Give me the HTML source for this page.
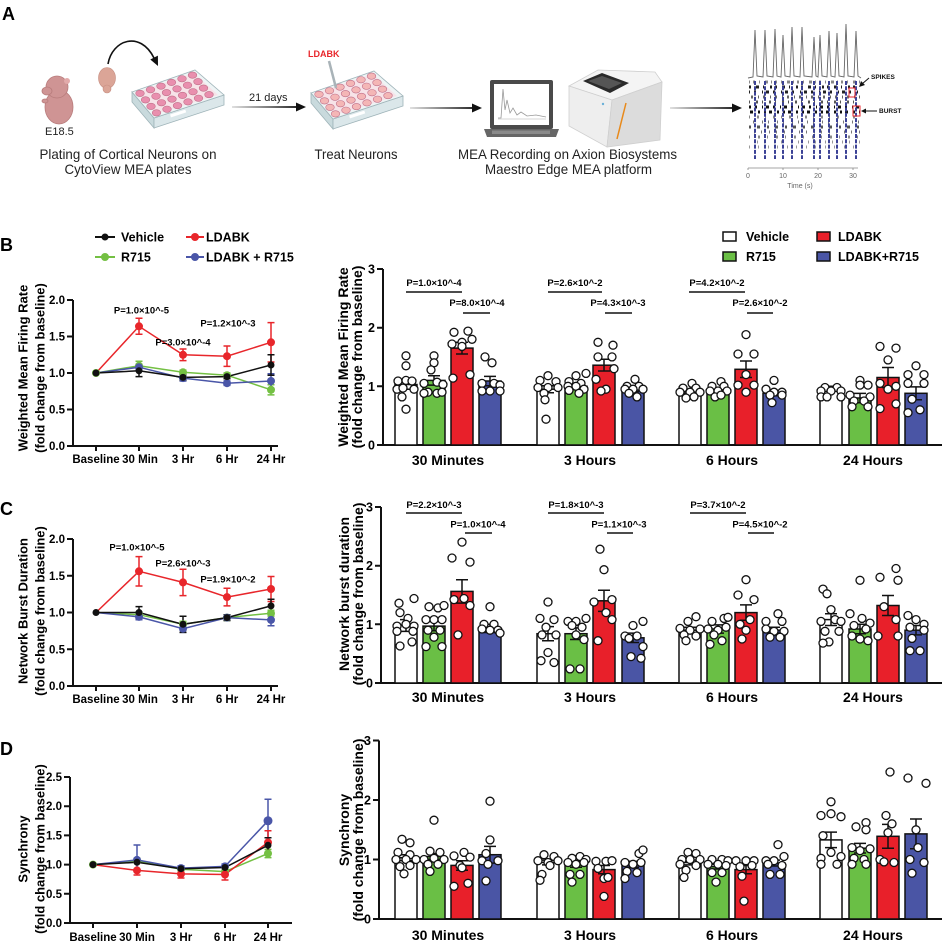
<!DOCTYPE html>
<html><head><meta charset="utf-8">
<style>
html,body{margin:0;padding:0;background:#fff;}
svg{display:block;font-family:"Liberation Sans",Arial,sans-serif;}
</style></head><body>
<svg id="s" width="951" height="952" viewBox="0 0 951 952" xmlns="http://www.w3.org/2000/svg">
<defs>
<linearGradient id="ag" x1="0" x2="1" y1="0" y2="0"><stop offset="0" stop-color="#ddd"/><stop offset="1" stop-color="#111"/></linearGradient>
<g id="wells" stroke="#c0708a" stroke-width="0.6">
<ellipse cx="140" cy="93.4" rx="4.3" ry="3.2"/><ellipse cx="150.5" cy="89.7" rx="4.3" ry="3.2"/><ellipse cx="161" cy="86.1" rx="4.3" ry="3.2"/><ellipse cx="171.5" cy="82.4" rx="4.3" ry="3.2"/><ellipse cx="182" cy="78.7" rx="4.3" ry="3.2"/><ellipse cx="192.5" cy="75.1" rx="4.3" ry="3.2"/>
<ellipse cx="145.5" cy="99.9" rx="4.3" ry="3.2"/><ellipse cx="156" cy="96.2" rx="4.3" ry="3.2"/><ellipse cx="166.5" cy="92.6" rx="4.3" ry="3.2"/><ellipse cx="177" cy="88.9" rx="4.3" ry="3.2"/><ellipse cx="187.5" cy="85.2" rx="4.3" ry="3.2"/><ellipse cx="198" cy="81.6" rx="4.3" ry="3.2"/>
<ellipse cx="151" cy="106.4" rx="4.3" ry="3.2"/><ellipse cx="161.5" cy="102.7" rx="4.3" ry="3.2"/><ellipse cx="172" cy="99.1" rx="4.3" ry="3.2"/><ellipse cx="182.5" cy="95.4" rx="4.3" ry="3.2"/><ellipse cx="193" cy="91.7" rx="4.3" ry="3.2"/><ellipse cx="203.5" cy="88.1" rx="4.3" ry="3.2"/>
<ellipse cx="156.5" cy="112.9" rx="4.3" ry="3.2"/><ellipse cx="167" cy="109.2" rx="4.3" ry="3.2"/><ellipse cx="177.5" cy="105.6" rx="4.3" ry="3.2"/><ellipse cx="188" cy="101.9" rx="4.3" ry="3.2"/><ellipse cx="198.5" cy="98.2" rx="4.3" ry="3.2"/><ellipse cx="209" cy="94.6" rx="4.3" ry="3.2"/>
</g>
<g id="plate">
<polygon points="132,92 154,118 154,128 132,102" fill="#c9dadd" stroke="#9fb4b9" stroke-width="0.8"/>
<polygon points="154,118 224,95 224,105 154,128" fill="#dbe7ea" stroke="#9fb4b9" stroke-width="0.8"/>
<rect x="170" y="112" width="16" height="3" fill="#fff" transform="rotate(-18 178 113)"/>
<polygon points="132,92 195,70 224,95 154,118" fill="#eef4f5" stroke="#9fb4b9" stroke-width="0.8"/>
<polygon points="137,92 194,73 218,95 156,114" fill="#f7e3e8"/>
</g>
</defs>

<!-- ===== Panel A ===== -->
<text x="2" y="20" font-size="18" font-weight="bold">A</text>
<g fill="#cf9494" stroke="#b87c7c" stroke-width="0.8">
<ellipse cx="59" cy="107" rx="14" ry="17"/>
<circle cx="57" cy="87" r="11"/>
<ellipse cx="47" cy="91" rx="5" ry="4"/>
<ellipse cx="45" cy="101" rx="3" ry="2"/>
</g>
<circle cx="67" cy="81" r="3" fill="#e2aaaa"/>
<text x="45" y="135" font-size="11" fill="#222">E18.5</text>
<g fill="#dba597" stroke="#c58d80" stroke-width="0.6">
<ellipse cx="107" cy="78" rx="8.5" ry="10.5"/>
<ellipse cx="107" cy="89" rx="4" ry="4"/>
</g>
<path d="M108,64 C112,40 140,30 154,58" fill="none" stroke="#111" stroke-width="1.6"/>
<polygon points="158,66 157.9,55.6 150.3,59.5" fill="#111"/>
<use href="#plate"/>
<use href="#wells" fill="#e98fae"/>
<g transform="translate(179,1)"><use href="#plate"/><use href="#wells" fill="#f4b6b6"/></g>
<line x1="329" y1="61" x2="336" y2="88" stroke="#a9b3b8" stroke-width="2.5"/>
<text x="308" y="57" font-size="9" font-weight="bold" fill="#e8262b">LDABK</text>
<rect x="232" y="106.1" width="66" height="1.8" fill="url(#ag)"/>
<polygon points="306,107 296,102.5 296,111.5" fill="#111"/>
<text x="249" y="101" font-size="11" fill="#222">21 days</text>
<rect x="410" y="107.1" width="64" height="1.8" fill="url(#ag)"/>
<polygon points="482,108 472,103.5 472,112.5" fill="#111"/>
<rect x="670" y="107.1" width="63" height="1.8" fill="url(#ag)"/>
<polygon points="742,108 732,103.5 732,112.5" fill="#111"/>
<!-- laptop -->
<rect x="490" y="80" width="63" height="49" rx="2" fill="#4a4a4a"/>
<rect x="494" y="84" width="55" height="41" fill="#fff"/>
<polyline points="498,118 501,118 503,89 505,110 507,100 510,113 513,108 517,115 521,112 527,116 536,115 546,117" fill="none" stroke="#999" stroke-width="0.8"/>
<line x1="498" y1="119" x2="546" y2="119" stroke="#aaa" stroke-width="0.6"/>
<polygon points="484,129 559,129 556,137 487,137" fill="#666"/>
<rect x="492" y="130.5" width="58" height="3.5" fill="#8a8a8a"/>
<!-- machine -->
<polygon points="569,86 598,70 655,72 662,82 612,100" fill="#f4f4f4" stroke="#cfcfcf" stroke-width="0.8"/>
<polygon points="569,86 612,100 607,147 569,126" fill="#eeeeee" stroke="#cfcfcf" stroke-width="0.8"/>
<polygon points="612,100 662,82 660,140 607,147" fill="#dcdcdc" stroke="#cfcfcf" stroke-width="0.8"/>
<polygon points="583,81 602,73 629,83 610,93" fill="#2a2a2a"/>
<polygon points="588,81 602,76 622,83 609,89" fill="#555"/>
<line x1="617" y1="139" x2="626" y2="103" stroke="#e8891a" stroke-width="1.5"/>
<circle cx="603" cy="104" r="1.2" fill="#6ab0d8"/>
<text x="567.5" y="159" font-size="14" fill="#222" text-anchor="middle" textLength="219" lengthAdjust="spacingAndGlyphs">MEA Recording on Axion Biosystems</text>
<text x="568.5" y="174" font-size="14" fill="#222" text-anchor="middle" textLength="167" lengthAdjust="spacingAndGlyphs">Maestro Edge MEA platform</text>
<text x="128" y="159" font-size="14" fill="#222" text-anchor="middle" textLength="177" lengthAdjust="spacingAndGlyphs">Plating of Cortical Neurons on</text>
<text x="128" y="174" font-size="14" fill="#222" text-anchor="middle" textLength="127" lengthAdjust="spacingAndGlyphs">CytoView MEA plates</text>
<text x="356" y="159" font-size="14" fill="#222" text-anchor="middle" textLength="83" lengthAdjust="spacingAndGlyphs">Treat Neurons</text>
<!-- raster -->
<path d="M748,78 L753,77 L755,30 L757,76 L763,77 L765,30 L767,76 L773,77 L775,29 L777,76 L781,77 L783,35 L785,76 L790,77 L792,27 L794,76 L800,77 L802,27 L804,76 L812,77 L814,37 L816,76 L818,77 L820,35 L822,76 L827,77 L829,31 L831,76 L835,77 L837,33 L839,76 L844,77 L846,24 L848,76 L854,77 L856,31 L858,76 L861,78" fill="none" stroke="#666" stroke-width="0.9"/>
<g stroke-width="3">
<line x1="749" x2="860" y1="82" y2="82" stroke="#888" stroke-dasharray="1 3 2 4 1 5 3 3"/>
<line x1="749" x2="860" y1="87" y2="87" stroke="#222" stroke-dasharray="2 5 3 4 1 6 2 3"/>
<line x1="749" x2="860" y1="92" y2="92" stroke="#222" stroke-dasharray="3 4 2 6 1 3" stroke-dashoffset="2"/>
<line x1="749" x2="860" y1="97" y2="97" stroke="#666" stroke-dasharray="1 4 2 5" stroke-dashoffset="3"/>
<line x1="749" x2="860" y1="102" y2="102" stroke="#555" stroke-dasharray="1 6 2 4"/>
<line x1="749" x2="860" y1="107" y2="107" stroke="#111" stroke-dasharray="3 4 2 5 1 3" stroke-dashoffset="1"/>
<line x1="749" x2="860" y1="112" y2="112" stroke="#111" stroke-dasharray="2 3 3 5 2 4" stroke-dashoffset="4"/>
<line x1="749" x2="860" y1="117" y2="117" stroke="#888" stroke-dasharray="1 7 2 6"/>
<line x1="749" x2="860" y1="122" y2="122" stroke="#777" stroke-dasharray="1 5 1 8" stroke-dashoffset="2"/>
<line x1="749" x2="860" y1="127" y2="127" stroke="#555" stroke-dasharray="2 6 3 7"/>
<line x1="749" x2="860" y1="132" y2="132" stroke="#777" stroke-dasharray="1 7 1 6" stroke-dashoffset="3"/>
<line x1="749" x2="860" y1="137" y2="137" stroke="#888" stroke-dasharray="1 8 2 7"/>
<line x1="749" x2="860" y1="142" y2="142" stroke="#999" stroke-dasharray="1 9 1 6" stroke-dashoffset="2"/>
<line x1="749" x2="860" y1="147" y2="147" stroke="#999" stroke-dasharray="1 8 1 9"/>
</g>
<g stroke="#3c4296" stroke-width="2" stroke-dasharray="4 1.3">
<line x1="755" x2="755" y1="81" y2="159"/><line x1="765" x2="765" y1="81" y2="159"/><line x1="775" x2="775" y1="81" y2="159"/><line x1="783" x2="783" y1="81" y2="159"/><line x1="792" x2="792" y1="81" y2="159"/><line x1="802" x2="802" y1="81" y2="159"/><line x1="814" x2="814" y1="81" y2="159"/><line x1="820" x2="820" y1="81" y2="159"/><line x1="829" x2="829" y1="81" y2="159"/><line x1="837" x2="837" y1="81" y2="159"/><line x1="846" x2="846" y1="81" y2="159"/><line x1="856" x2="856" y1="81" y2="159"/>
</g>
<rect x="849" y="88" width="6" height="9" fill="none" stroke="#e8262b" stroke-width="1"/>
<rect x="853" y="106" width="7" height="10" fill="none" stroke="#e8262b" stroke-width="1"/>
<line x1="748" y1="168" x2="858" y2="168" stroke="#888" stroke-width="0.8"/>
<g stroke="#888" stroke-width="0.8"><line x1="748" x2="748" y1="168" y2="170"/><line x1="783" x2="783" y1="168" y2="170"/><line x1="818" x2="818" y1="168" y2="170"/><line x1="853" x2="853" y1="168" y2="170"/></g>
<g font-size="7" fill="#666" text-anchor="middle"><text x="748" y="178">0</text><text x="783" y="178">10</text><text x="818" y="178">20</text><text x="853" y="178">30</text><text x="800" y="188">Time (s)</text></g>
<text x="871" y="79" font-size="6.5" font-weight="bold" fill="#111">SPIKES</text>
<line x1="869" y1="78" x2="862" y2="84" stroke="#111" stroke-width="1"/><polygon points="859,87 861,81 865,85" fill="#111"/>
<text x="879" y="113" font-size="6.5" font-weight="bold" fill="#111">BURST</text>
<line x1="877" y1="111" x2="865" y2="111" stroke="#111" stroke-width="1"/><polygon points="861,111 866,108.5 866,113.5" fill="#111"/>

<!-- ===== Panel labels ===== -->
<g font-size="18" font-weight="bold"><text x="0" y="251">B</text><text x="0" y="515">C</text><text x="0" y="755">D</text></g>

<!-- left legend -->
<g stroke-width="2">
<line x1="95" y1="237" x2="115" y2="237" stroke="#111"/><circle cx="105" cy="237" r="3.5" fill="#111"/>
<line x1="186" y1="237" x2="204" y2="237" stroke="#e8262b"/><circle cx="195" cy="237" r="4" fill="#e8262b"/>
<line x1="95" y1="257" x2="115" y2="257" stroke="#74c043"/><circle cx="105" cy="257" r="4" fill="#74c043"/>
<line x1="186" y1="257" x2="204" y2="257" stroke="#4a56a8"/><circle cx="195" cy="257" r="4" fill="#4a56a8"/>
</g>
<g font-size="12.5" font-weight="bold">
<text x="121" y="241.5">Vehicle</text><text x="206" y="241.5">LDABK</text>
<text x="121" y="261.5">R715</text><text x="206" y="261.5">LDABK + R715</text>
</g>
<!-- right legend -->
<g stroke="#111" stroke-width="1.5">
<rect x="723" y="232" width="13" height="9" fill="#fff"/><rect x="817" y="232" width="13" height="9" fill="#e8202a"/>
<rect x="723" y="252" width="13" height="9" fill="#6abf45"/><rect x="817" y="252" width="13" height="9" fill="#4a55a5"/>
</g>
<g font-size="12.5" font-weight="bold">
<text x="746" y="241">Vehicle</text><text x="838" y="241">LDABK</text>
<text x="746" y="261">R715</text><text x="838" y="261">LDABK+R715</text>
</g>

<!-- ===== axis titles ===== -->
<g font-size="13" font-weight="bold" text-anchor="middle">
<text transform="translate(27.5,368) rotate(-90)">Weighted Mean Firing Rate</text>
<text transform="translate(44.5,368) rotate(-90)">(fold change from baseline)</text>
<text transform="translate(27.5,611) rotate(-90)">Network Burst Duration</text>
<text transform="translate(44.5,611) rotate(-90)">(fold change from baseline)</text>
<text transform="translate(27.5,849) rotate(-90)">Synchrony</text>
<text transform="translate(44.5,849) rotate(-90)">(fold change from baseline)</text>
</g>
<g font-size="14" font-weight="bold" text-anchor="middle">
<text transform="translate(348,357) rotate(-90)">Weighted Mean Firing Rate</text>
<text transform="translate(362,357) rotate(-90)">(fold change from baseline)</text>
<text transform="translate(349,594) rotate(-90)">Network burst duration</text>
<text transform="translate(363,594) rotate(-90)">(fold change from baseline)</text>
<text transform="translate(349,830) rotate(-90)">Synchrony</text>
<text transform="translate(363,830) rotate(-90)">(fold change from baseline)</text>
</g>

<g stroke="#111" stroke-width="2" fill="none">
<path d="M73,300V446H278"/>
<path d="M67,300H73M67,336.5H73M67,373H73M67,409.5H73M67,446H73"/>
<path d="M96,446v5M139,446v5M183,446v5M227,446v5M271,446v5"/>
<path d="M73,539V686H278"/>
<path d="M67,539H73M67,575.75H73M67,612.5H73M67,649.25H73M67,686H73"/>
<path d="M96,686v5M139,686v5M183,686v5M227,686v5M271,686v5"/>
<path d="M70,777V923H292"/>
<path d="M64,777H70M64,806.2H70M64,835.4H70M64,864.6H70M64,893.8H70M64,923H70"/>
<path d="M93,923v5M137,923v5M181,923v5M225,923v5M268,923v5"/>
</g>
<g font-size="11.5" font-weight="bold" text-anchor="end">
<text x="65" y="304">2.0</text><text x="65" y="340.5">1.5</text><text x="65" y="377">1.0</text><text x="65" y="413.5">0.5</text><text x="65" y="450">0.0</text>
<text x="65" y="543">2.0</text><text x="65" y="579.75">1.5</text><text x="65" y="616.5">1.0</text><text x="65" y="653.25">0.5</text><text x="65" y="690">0.0</text>
<text x="62" y="781">2.5</text><text x="62" y="810.2">2.0</text><text x="62" y="839.4">1.5</text><text x="62" y="868.6">1.0</text><text x="62" y="897.8">0.5</text><text x="62" y="927">0.0</text>
</g>
<g font-size="11.5" font-weight="bold" text-anchor="middle">
<text x="96" y="463">Baseline</text><text x="140" y="463">30 Min</text><text x="183" y="463">3 Hr</text><text x="227" y="463">6 Hr</text><text x="271" y="463">24 Hr</text>
<text x="96" y="703">Baseline</text><text x="140" y="703">30 Min</text><text x="183" y="703">3 Hr</text><text x="227" y="703">6 Hr</text><text x="271" y="703">24 Hr</text>
<text x="93" y="941">Baseline</text><text x="137" y="941">30 Min</text><text x="181" y="941">3 Hr</text><text x="225" y="941">6 Hr</text><text x="268" y="941">24 Hr</text>
</g>

<!-- B left series -->
<g fill="none" stroke-width="1.5">
<polyline stroke="#74c043" points="96,373 139,365.7 183,372.3 227,375.2 271,389.8"/>
<path stroke="#74c043" d="M139,361.3V370.1M135.5,361.3H142.5M135.5,370.1H142.5M183,370.1V374.5M179.5,370.1H186.5M179.5,374.5H186.5M227,373V377.4M223.5,373H230.5M223.5,377.4H230.5M271,384.7V394.9M267.5,384.7H274.5M267.5,394.9H274.5"/>
<polyline stroke="#4a56a8" points="96,373 139,367.2 183,378.1 227,383.2 271,381"/>
<path stroke="#4a56a8" d="M139,364.3V370.1M135.5,364.3H142.5M135.5,370.1H142.5M183,375.2V381M179.5,375.2H186.5M179.5,381H186.5M227,381V385.4M223.5,381H230.5M223.5,385.4H230.5M271,373.7V388.3M267.5,373.7H274.5M267.5,388.3H274.5"/>
<polyline stroke="#e8262b" points="96,373 139,326.3 183,354.8 227,356.2 271,342.3"/>
<path stroke="#e8262b" d="M139,318.3V334.3M135.5,318.3H142.5M135.5,334.3H142.5M183,349V360.6M179.5,349H186.5M179.5,360.6H186.5M227,346V366.4M223.5,346H230.5M223.5,366.4H230.5M271,322.6V362M267.5,322.6H274.5M267.5,362H274.5"/>
<polyline stroke="#111" points="96,373 139,370.8 183,377.4 227,376.6 271,365"/>
<path stroke="#111" d="M139,365V376.6M135.5,365H142.5M135.5,376.6H142.5M183,374.5V380.3M179.5,374.5H186.5M179.5,380.3H186.5M227,374.4V378.8M223.5,374.4H230.5M223.5,378.8H230.5M271,354.8V375.2M267.5,354.8H274.5M267.5,375.2H274.5"/>
</g>
<g fill="#74c043"><circle cx="96" cy="373" r="4"/><circle cx="139" cy="365.7" r="4"/><circle cx="183" cy="372.3" r="4"/><circle cx="227" cy="375.2" r="4"/><circle cx="271" cy="389.8" r="4"/></g>
<g fill="#4a56a8"><circle cx="139" cy="367.2" r="4"/><circle cx="183" cy="378.1" r="4"/><circle cx="227" cy="383.2" r="4"/><circle cx="271" cy="381" r="4"/></g>
<g fill="#e8262b"><circle cx="139" cy="326.3" r="4"/><circle cx="183" cy="354.8" r="4"/><circle cx="227" cy="356.2" r="4"/><circle cx="271" cy="342.3" r="4"/></g>
<g fill="#111"><circle cx="96" cy="373" r="3.5"/><circle cx="139" cy="370.8" r="3.5"/><circle cx="183" cy="377.4" r="3.5"/><circle cx="227" cy="376.6" r="3.5"/><circle cx="271" cy="365" r="3.5"/></g>
<g font-size="9.5" font-weight="bold" text-anchor="middle">
<text x="141.5" y="313.5">P=1.0×10^-5</text><text x="183" y="345.5">P=3.0×10^-4</text><text x="228" y="326.5">P=1.2×10^-3</text>
<text x="137" y="550.5">P=1.0×10^-5</text><text x="183" y="566.5">P=2.6×10^-3</text><text x="228" y="582.5">P=1.9×10^-2</text>
</g>

<!-- C left series -->
<g fill="none" stroke-width="1.5">
<polyline stroke="#74c043" points="96,612.5 139,614.7 183,624.3 227,617.6 271,613.2"/>
<path stroke="#74c043" d="M139,611.8V617.6M135.5,611.8H142.5M135.5,617.6H142.5M183,621.4V627.2M179.5,621.4H186.5M179.5,627.2H186.5M227,614.7V620.5M223.5,614.7H230.5M223.5,620.5H230.5M271,610.3V616.1M267.5,610.3H274.5M267.5,616.1H274.5"/>
<polyline stroke="#4a56a8" points="96,612.5 139,616.9 183,628.7 227,617.6 271,619.9"/>
<path stroke="#4a56a8" d="M139,614V619.8M135.5,614H142.5M135.5,619.8H142.5M183,625V632.4M179.5,625H186.5M179.5,632.4H186.5M227,615.4V619.8M223.5,615.4H230.5M223.5,619.8H230.5M271,614V625.8M267.5,614H274.5M267.5,625.8H274.5"/>
<polyline stroke="#e8262b" points="96,612.5 139,571.3 183,582.4 227,597.1 271,589"/>
<path stroke="#e8262b" d="M139,556.6V586M135.5,556.6H142.5M135.5,586H142.5M183,569.2V595.6M179.5,569.2H186.5M179.5,595.6H186.5M227,588.3V605.9M223.5,588.3H230.5M223.5,605.9H230.5M271,576.5V601.5M267.5,576.5H274.5M267.5,601.5H274.5"/>
<polyline stroke="#111" points="96,612.5 139,612.5 183,624.3 227,617.6 271,605.9"/>
<path stroke="#111" d="M139,606.6V618.4M135.5,606.6H142.5M135.5,618.4H142.5M183,616.2V632.4M179.5,616.2H186.5M179.5,632.4H186.5M227,614.7V620.5M223.5,614.7H230.5M223.5,620.5H230.5M271,599.3V612.5M267.5,599.3H274.5M267.5,612.5H274.5"/>
</g>
<g fill="#74c043"><circle cx="139" cy="614.7" r="4"/><circle cx="183" cy="624.3" r="4"/><circle cx="227" cy="617.6" r="4"/><circle cx="271" cy="613.2" r="4"/></g>
<g fill="#4a56a8"><circle cx="139" cy="616.9" r="4"/><circle cx="183" cy="628.7" r="4"/><circle cx="227" cy="617.6" r="4"/><circle cx="271" cy="619.9" r="4"/></g>
<g fill="#e8262b"><circle cx="139" cy="571.3" r="4"/><circle cx="183" cy="582.4" r="4"/><circle cx="227" cy="597.1" r="4"/><circle cx="271" cy="589" r="4"/></g>
<g fill="#111"><circle cx="96" cy="612.5" r="3.5"/><circle cx="139" cy="612.5" r="3.5"/><circle cx="183" cy="624.3" r="3.5"/><circle cx="227" cy="617.6" r="3.5"/><circle cx="271" cy="605.9" r="3.5"/></g>

<!-- D left series -->
<g fill="none" stroke-width="1.5">
<polyline stroke="#74c043" points="93,864.6 137,861.1 181,869.3 225,871.6 268,853.5"/>
<path stroke="#74c043" d="M137,858.2V864M133.5,858.2H140.5M181,867.5V871.1M177.5,867.5H184.5M225,869.8V873.4M221.5,869.8H228.5M268,849.4V857.6M264.5,849.4H271.5M264.5,857.6H271.5"/>
<polyline stroke="#4a56a8" points="93,864.6 137,859.9 181,868.1 225,866.4 268,820.8"/>
<path stroke="#4a56a8" d="M137,845V868M133.5,845H140.5M181,865.8V870.4M177.5,865.8H184.5M225,864V868.2M221.5,864H228.5M268,799.2V842.4M264.5,799.2H271.5"/>
<polyline stroke="#e8262b" points="93,864.6 137,870.4 181,873.9 225,874.5 268,842.4"/>
<path stroke="#e8262b" d="M137,866.9V875M133.5,875H140.5M181,871V878M177.5,878H184.5M225,870.4V880M221.5,880H228.5M268,830.7V854.1M264.5,830.7H271.5M264.5,854.1H271.5"/>
<polyline stroke="#111" points="93,864.6 137,862.3 181,868.7 225,867.5 268,845.3"/>
<path stroke="#111" d="M137,860V864.6M133.5,860H140.5M181,866.9V870.5M225,866.3V868.7M268,837.7V852.9M264.5,837.7H271.5M264.5,852.9H271.5"/>
</g>
<g fill="#74c043"><circle cx="93" cy="864.6" r="4"/><circle cx="137" cy="861.1" r="4"/><circle cx="181" cy="869.3" r="4"/><circle cx="225" cy="871.6" r="4"/><circle cx="268" cy="853.5" r="4"/></g>
<g fill="#4a56a8"><circle cx="137" cy="859.9" r="4"/><circle cx="181" cy="868.1" r="4"/><circle cx="225" cy="866.4" r="4"/><circle cx="268" cy="820.8" r="4.5"/></g>
<g fill="#e8262b"><circle cx="137" cy="870.4" r="4"/><circle cx="181" cy="873.9" r="4"/><circle cx="225" cy="874.5" r="4"/><circle cx="268" cy="842.4" r="4"/></g>
<g fill="#111"><circle cx="93" cy="864.6" r="3.5"/><circle cx="137" cy="862.3" r="3.5"/><circle cx="181" cy="868.7" r="3.5"/><circle cx="225" cy="867.5" r="3.5"/><circle cx="268" cy="845.3" r="3.5"/></g>

<!-- ===== Bar charts axes ===== -->
<g stroke="#111" stroke-width="2" fill="none">
<path d="M383,269V445H942"/>
<path d="M377,269H383M377,327.7H383M377,386.3H383M377,445H383"/>
<path d="M381,507V683H942"/>
<path d="M375,507H381M375,565.7H381M375,624.3H381M375,683H381"/>
<path d="M379,740.5V919H942"/>
<path d="M373,740.5H379M373,800H379M373,859.5H379M373,919H379"/>
</g>
<g font-size="12.5" font-weight="bold" text-anchor="end">
<text x="375" y="273.5">3</text><text x="375" y="332.2">2</text><text x="375" y="390.8">1</text><text x="375" y="449.5">0</text>
<text x="373" y="511.5">3</text><text x="373" y="570.2">2</text><text x="373" y="628.8">1</text><text x="373" y="687.5">0</text>
<text x="371" y="745">3</text><text x="371" y="804.5">2</text><text x="371" y="864">1</text><text x="371" y="923.5">0</text>
</g>
<g font-size="14" font-weight="bold" text-anchor="middle">
<text x="448" y="465">30 Minutes</text><text x="590" y="465">3 Hours</text><text x="732" y="465">6 Hours</text><text x="873" y="465">24 Hours</text>
<text x="448" y="702">30 Minutes</text><text x="590" y="702">3 Hours</text><text x="732" y="702">6 Hours</text><text x="873" y="702">24 Hours</text>
<text x="448" y="940">30 Minutes</text><text x="590" y="940">3 Hours</text><text x="732" y="940">6 Hours</text><text x="873" y="940">24 Hours</text>
</g>

<!-- B bars -->
<g stroke="#111" stroke-width="1.5">
<rect x="395" y="384.5" width="22" height="60.5" fill="#fff"/><rect x="423" y="380.4" width="22" height="64.6" fill="#6abf45"/><rect x="451" y="348.1" width="22" height="96.9" fill="#e8202a"/><rect x="479" y="381" width="22" height="64" fill="#4a55a5"/>
<rect x="537" y="389.2" width="22" height="55.8" fill="#fff"/><rect x="565" y="386.3" width="22" height="58.7" fill="#6abf45"/><rect x="593" y="365.2" width="22" height="79.8" fill="#e8202a"/><rect x="622" y="389.2" width="22" height="55.8" fill="#4a55a5"/>
<rect x="679" y="393.3" width="22" height="51.7" fill="#fff"/><rect x="707" y="392.2" width="22" height="52.8" fill="#6abf45"/><rect x="735" y="369.3" width="22" height="75.7" fill="#e8202a"/><rect x="763" y="393.3" width="22" height="51.7" fill="#4a55a5"/>
<rect x="820" y="388.1" width="22" height="56.9" fill="#fff"/><rect x="849" y="398" width="22" height="47" fill="#6abf45"/><rect x="877" y="377.5" width="22" height="67.5" fill="#e8202a"/><rect x="905" y="393.3" width="22" height="51.7" fill="#4a55a5"/>
</g>
<!-- C bars -->
<g stroke="#111" stroke-width="1.5">
<rect x="395" y="625.5" width="22" height="57.5" fill="#fff"/><rect x="423" y="626.1" width="22" height="56.9" fill="#6abf45"/><rect x="451" y="591.4" width="22" height="91.6" fill="#e8202a"/><rect x="479" y="628.4" width="22" height="54.6" fill="#4a55a5"/>
<rect x="537" y="633.7" width="22" height="49.3" fill="#fff"/><rect x="565" y="633.7" width="22" height="49.3" fill="#6abf45"/><rect x="593" y="600.8" width="22" height="82.2" fill="#e8202a"/><rect x="622" y="637.8" width="22" height="45.2" fill="#4a55a5"/>
<rect x="679" y="630.2" width="22" height="52.8" fill="#fff"/><rect x="707" y="629" width="22" height="54" fill="#6abf45"/><rect x="735" y="612.6" width="22" height="70.4" fill="#e8202a"/><rect x="763" y="630.2" width="22" height="52.8" fill="#4a55a5"/>
<rect x="820" y="619.6" width="22" height="63.4" fill="#fff"/><rect x="849" y="629" width="22" height="54" fill="#6abf45"/><rect x="877" y="605.5" width="22" height="77.5" fill="#e8202a"/><rect x="905" y="630.2" width="22" height="52.8" fill="#4a55a5"/>
</g>
<!-- D bars -->
<g stroke="#111" stroke-width="1.5">
<rect x="395" y="857.7" width="22" height="61.3" fill="#fff"/><rect x="423" y="856.5" width="22" height="62.5" fill="#6abf45"/><rect x="451" y="865.4" width="22" height="53.6" fill="#e8202a"/><rect x="479" y="854.7" width="22" height="64.3" fill="#4a55a5"/>
<rect x="537" y="862.5" width="22" height="56.5" fill="#fff"/><rect x="565" y="864.3" width="22" height="54.7" fill="#6abf45"/><rect x="593" y="869.6" width="22" height="49.4" fill="#e8202a"/><rect x="622" y="864.3" width="22" height="54.7" fill="#4a55a5"/>
<rect x="679" y="862.5" width="22" height="56.5" fill="#fff"/><rect x="707" y="866.6" width="22" height="52.4" fill="#6abf45"/><rect x="735" y="869.6" width="22" height="49.4" fill="#e8202a"/><rect x="763" y="863.1" width="22" height="55.9" fill="#4a55a5"/>
<rect x="820" y="839.9" width="22" height="79.1" fill="#fff"/><rect x="849" y="848.2" width="22" height="70.8" fill="#6abf45"/><rect x="877" y="836.3" width="22" height="82.7" fill="#e8202a"/><rect x="905" y="833.9" width="22" height="85.1" fill="#4a55a5"/>
</g>

<g id="dots"></g>

<!-- significance brackets -->
<g stroke="#111" stroke-width="1.5">
<line x1="406" x2="462" y1="292" y2="292"/><line x1="463" x2="490" y1="313" y2="313"/>
<line x1="548" x2="602" y1="292" y2="292"/><line x1="605" x2="632" y1="313" y2="313"/>
<line x1="689" x2="745" y1="292" y2="292"/><line x1="747" x2="773" y1="313" y2="313"/>
<line x1="406" x2="462" y1="513" y2="513"/><line x1="465" x2="492" y1="533" y2="533"/>
<line x1="548" x2="604" y1="513" y2="513"/><line x1="607" x2="633" y1="533" y2="533"/>
<line x1="690" x2="746" y1="513" y2="513"/><line x1="748" x2="774" y1="533" y2="533"/>
</g>
<g font-size="9.5" font-weight="bold" text-anchor="middle">
<text x="434" y="286">P=1.0×10^-4</text><text x="477" y="306">P=8.0×10^-4</text>
<text x="575" y="286">P=2.6×10^-2</text><text x="618" y="306">P=4.3×10^-3</text>
<text x="717" y="286">P=4.2×10^-2</text><text x="760" y="306">P=2.6×10^-2</text>
<text x="434" y="508">P=2.2×10^-3</text><text x="478" y="527.5">P=1.0×10^-4</text>
<text x="576" y="508">P=1.8×10^-3</text><text x="619" y="527.5">P=1.1×10^-3</text>
<text x="718" y="508">P=3.7×10^-2</text><text x="760" y="527.5">P=4.5×10^-2</text>
</g>
</svg>
<script>
(function(){
var NS="http://www.w3.org/2000/svg";
var g=document.getElementById('dots');
function add(tag,a){var e=document.createElementNS(NS,tag);for(var k in a)e.setAttribute(k,a[k]);g.appendChild(e);return e;}
var C=[406,434,462,490,548,576,604,633,690,718,746,774,831,860,888,916];
var charts=[
{base:445,k:58.7,
m:[1.03,1.1,1.65,1.09,.95,1.0,1.36,.95,.88,.9,1.29,.88,.97,.8,1.15,.88],
s:[.08,.08,.1,.08,.06,.05,.1,.04,.03,.04,.14,.04,.03,.08,.17,.11],
d:[
[[0,1.52],[0,1.35],[-8,1.09],[0,1.1],[6,1.09],[8,0.95],[-9,0.95],[-3,0.97],[-4,0.82],[0,0.61]],
[[0,1.52],[0,1.4],[-3,1.28],[-10,1.05],[3,1.07],[9,1.03],[-6,0.9],[3,0.88],[-10,0.88],[8,0.9]],
[[-8,1.92],[6,1.94],[-10,1.72],[0,1.75],[10,1.8],[-9,1.14],[8,1.2],[0,1.68]],
[[-5,1.5],[2,1.4],[-8,1.05],[4,1.05],[10,1.02],[-8,0.92],[0,0.92],[10,0.92]],
[[0,1.18],[-8,1.1],[8,1.08],[-10,0.98],[0,0.98],[10,0.98],[-4,0.88],[-3,0.77],[-2,0.44]],
[[10,1.22],[0,1.18],[-7,1.08],[5,1.05],[-8,1.0],[0,1.0],[8,0.95],[-7,0.93],[3,0.88]],
[[-6,1.75],[9,1.7],[-6,1.5],[8,1.5],[-8,1.12],[10,1.3],[2,0.95],[-3,0.92]],
[[2,1.12],[-6,1.0],[6,1.0],[-8,0.95],[0,0.95],[10,0.95],[-4,0.88],[4,0.82]],
[[2,1.05],[-7,0.97],[6,0.97],[-10,0.9],[0,0.9],[10,0.9],[-4,0.8],[4,0.82]],
[[3,1.08],[-6,1.0],[6,1.0],[-8,0.92],[0,0.92],[9,0.92],[-3,0.82],[3,0.85]],
[[0,1.88],[-8,1.55],[8,1.55],[-8,1.02],[8,1.02],[0,1.2],[0,0.9]],
[[0,1.1],[-8,0.95],[8,0.9],[0,0.9],[-4,0.85],[8,0.85],[-2,0.72]],
[[-6,0.98],[6,0.98],[-10,0.92],[0,0.92],[10,0.92],[-10,0.82],[10,0.82],[-4,0.82]],
[[0,1.1],[0,1.02],[8,1.02],[-10,0.85],[10,0.82],[-6,0.75],[4,0.75],[-8,0.65],[8,0.65]],
[[-8,1.68],[8,1.65],[0,1.45],[-8,1.05],[8,1.0],[0,0.95],[-8,0.62],[8,0.7]],
[[0,1.35],[-8,1.2],[8,1.2],[-8,1.05],[8,1.05],[-4,0.78],[4,0.6],[-8,0.55]]]},
{base:683,k:58.7,
m:[.98,.97,1.56,.93,.84,.84,1.4,.77,.9,.92,1.2,.9,1.08,.92,1.32,.9],
s:[.1,.08,.2,.07,.12,.1,.18,.08,.05,.07,.13,.05,.1,.08,.17,.08],
d:[
[[-7,1.36],[8,1.44],[-6,1.2],[2,1.1],[-9,0.97],[0,1.0],[8,0.97],[-9,0.88],[7,0.88],[-6,0.63],[6,0.7]],
[[-5,1.3],[4,1.28],[10,1.32],[-8,1.08],[0,1.08],[8,1.08],[-6,0.9],[6,0.9],[-8,0.62],[0,0.78],[8,0.62]],
[[0,2.4],[-10,2.13],[8,2.06],[-8,1.42],[2,1.44],[8,1.32],[-4,0.82]],
[[0,1.3],[-6,1.0],[4,1.0],[-8,0.92],[0,0.9],[8,0.9],[10,0.85]],
[[0,1.38],[-8,1.1],[6,1.08],[-2,0.95],[8,0.82],[-6,0.82],[0,0.52],[-7,0.38],[6,0.35]],
[[0,1.05],[10,1.1],[-8,1.05],[-4,0.98],[6,0.95],[0,0.82],[8,0.74],[-6,0.24],[4,0.24]],
[[-4,2.28],[0,1.93],[-10,1.38],[8,1.42],[8,1.08],[-6,0.72],[2,1.2]],
[[0,0.98],[10,1.05],[-8,0.8],[4,0.8],[-4,0.76],[10,0.62],[-2,0.45],[8,0.42]],
[[6,1.13],[-2,1.05],[-10,0.93],[0,0.9],[10,0.92],[-6,0.82],[6,0.8],[-4,0.72]],
[[-6,1.05],[6,1.1],[10,1.12],[-10,0.92],[0,0.9],[8,0.95],[-4,0.82],[4,0.72],[-8,0.66]],
[[0,1.76],[-8,1.5],[8,1.42],[-6,1.0],[4,1.08],[0,0.9],[-4,0.75]],
[[4,1.18],[-8,1.05],[8,1.05],[-8,0.92],[0,0.88],[10,0.88],[-4,0.78],[6,0.78]],
[[-8,1.6],[-4,1.52],[0,1.25],[-10,1.05],[4,1.08],[10,1.05],[-6,0.88],[8,0.88],[-2,0.7],[-8,0.68]],
[[0,1.75],[-10,1.18],[2,1.1],[10,1.02],[-6,0.98],[6,0.92],[-8,0.8],[0,0.75],[8,0.72]],
[[-8,1.8],[8,1.95],[10,1.75],[-4,1.3],[8,1.08],[-10,0.8],[10,0.8]],
[[-8,1.15],[0,1.08],[8,1.0],[-6,0.95],[8,0.9],[-4,0.76],[-6,0.55],[4,0.55]]]},
{base:919,k:59.5,
m:[1.03,1.05,.9,1.08,.95,.92,.83,.92,.95,.88,.83,.94,1.33,1.19,1.39,1.43],
s:[.05,.05,.08,.14,.04,.05,.07,.05,.04,.04,.07,.05,.13,.08,.2,.25],
d:[
[[-4,1.34],[4,1.28],[-8,1.12],[4,1.08],[-10,1.0],[0,1.0],[10,1.0],[-6,0.88],[4,0.9],[-2,0.76]],
[[0,1.66],[-4,1.14],[6,1.12],[-10,1.0],[0,1.02],[10,1.0],[-6,0.92],[4,0.92],[-4,0.8]],
[[-8,1.06],[2,1.12],[8,1.04],[-2,0.9],[0,0.86],[-8,0.55],[6,0.6]],
[[0,1.98],[0,1.33],[-4,1.1],[-8,0.98],[8,0.98],[-2,0.92],[-4,0.64]],
[[-4,1.08],[6,1.05],[-10,0.98],[0,0.95],[10,0.98],[-6,0.75],[-8,0.65],[2,0.9]],
[[-4,1.02],[4,1.05],[10,1.0],[-8,0.95],[0,0.92],[8,0.95],[-6,0.75],[4,0.75],[-4,0.62]],
[[-8,0.97],[2,0.97],[8,0.98],[-6,0.85],[0,0.68],[4,0.7],[0,0.38]],
[[6,1.1],[10,1.16],[-8,0.95],[0,0.92],[8,0.95],[-6,0.8],[4,0.78],[-8,0.68]],
[[-2,1.12],[6,1.1],[-8,1.0],[0,1.0],[10,1.0],[-10,0.92],[6,0.9],[-4,0.82],[-6,0.7]],
[[-6,1.0],[4,1.0],[10,0.98],[-10,0.92],[0,0.92],[8,0.9],[-6,0.78],[4,0.78],[-2,0.62]],
[[-10,0.98],[0,0.98],[8,0.98],[-6,0.88],[6,0.9],[-4,0.72],[-2,0.3]],
[[4,1.25],[-8,0.98],[0,0.98],[10,1.05],[-6,0.92],[8,0.9],[-4,0.75],[6,0.75]],
[[0,1.97],[-10,1.74],[0,1.77],[10,1.72],[-8,1.4],[0,1.12],[-10,1.02],[10,1.05],[-10,0.92],[6,0.92]],
[[-4,1.55],[6,1.62],[6,1.5],[-8,1.2],[0,1.15],[10,1.18],[-6,1.02],[4,1.0],[-8,0.92],[6,0.92]],
[[2,2.47],[-2,1.74],[4,1.6],[0,1.45],[-8,1.0],[6,0.95],[-4,0.96]],
[[-8,2.37],[10,2.28],[0,1.5],[-6,1.0],[8,0.95],[-4,0.77],[2,1.2]]]}
];
charts.forEach(function(ch){
  for(var i=0;i<16;i++){
    var cx=C[i], m=ch.m[i], s=ch.s[i];
    var yt=ch.base-ch.k*(m+s), yb=ch.base-ch.k*(m-s);
    add('path',{d:'M'+cx+','+yt+'V'+yb+'M'+(cx-6)+','+yt+'H'+(cx+6)+'M'+(cx-6)+','+yb+'H'+(cx+6),stroke:'#111','stroke-width':1.5,fill:'none'});
    ch.d[i].forEach(function(p){
      add('circle',{cx:cx+p[0],cy:(ch.base-ch.k*p[1]).toFixed(1),r:4,fill:'#fff',stroke:'#111','stroke-width':1.3});
    });
  }
});
})();
</script>
</body></html>
